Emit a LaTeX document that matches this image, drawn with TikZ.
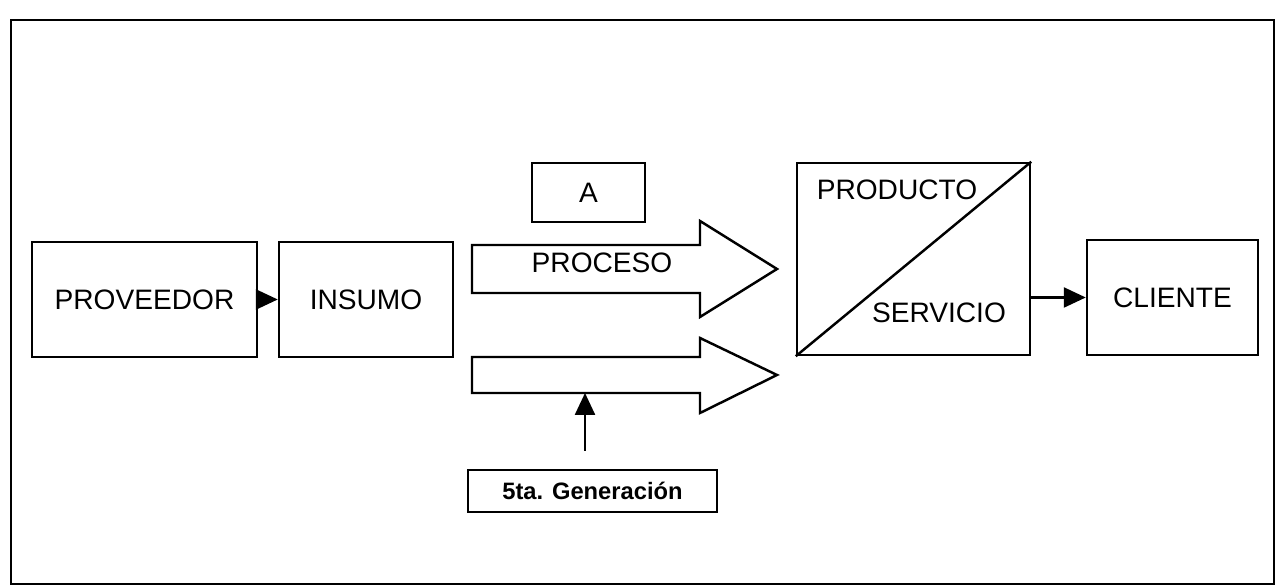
\documentclass[tikz,border=0pt]{standalone}
\usepackage{fontspec}
\setmainfont{Liberation Sans}
\usetikzlibrary{arrows.meta}
\begin{document}
\begin{tikzpicture}[x=1cm,y=1cm,line width=1.4pt,
    font=\fontsize{16}{19}\selectfont,
    >={Triangle[length=0.44cm,width=0.40cm]},
    caja/.style={draw,inner sep=0pt}]
    \useasboundingbox (0,0) rectangle (25.62,11.76);
    % Marco exterior.
    \draw (0.22,0.08) rectangle (25.48,11.36);

    % Entrada: proveedor e insumo.
    \node[caja,minimum width=4.50cm,minimum height=2.30cm]
        (proveedor) at (2.89,5.77) {PROVEEDOR};
    \node[caja,minimum width=3.48cm,minimum height=2.30cm]
        (insumo) at (7.32,5.77) {INSUMO};
    \draw[->] (proveedor) -- (insumo);

    % Proceso: dos flechas anchas.
    \node[caja,minimum width=2.26cm,minimum height=1.18cm]
        (a) at (11.77,7.91) {A};
    \draw (9.44,6.86) -- (14.00,6.86) -- (14.00,7.34) -- (15.54,6.38)
        -- (14.00,5.42) -- (14.00,5.90) -- (9.44,5.90) -- cycle;
    \node (proceso) at (12.04,6.50) {PROCESO};
    \draw (9.44,4.62) -- (14.00,4.62) -- (14.00,5.00) -- (15.54,4.26)
        -- (14.00,3.50) -- (14.00,3.90) -- (9.44,3.90) -- cycle;
    \coordinate (flecha2) at (11.70,3.90);

    \node[caja,font=\fontsize{13.5}{16}\selectfont\bfseries,
        minimum width=4.98cm,minimum height=0.84cm]
        (generacion) at (11.85,1.94) {5ta. Generación};
    \draw[->,shorten <=0.36cm] (generacion.north -| flecha2) -- (flecha2);

    % Salida: producto/servicio y cliente.
    \node[caja,minimum width=4.66cm,minimum height=3.84cm]
        (producto) at (18.27,6.58) {};
    \draw (producto.south west) -- (producto.north east);
    \node (prodtexto) at (17.94,7.96) {PRODUCTO};
    \node (servtexto) at (18.78,5.50) {SERVICIO};
    \node[caja,minimum width=3.42cm,minimum height=2.30cm]
        (cliente) at (23.45,5.81) {CLIENTE};
    \draw[->] (producto.east |- cliente) -- (cliente);
\end{tikzpicture}
\end{document}
